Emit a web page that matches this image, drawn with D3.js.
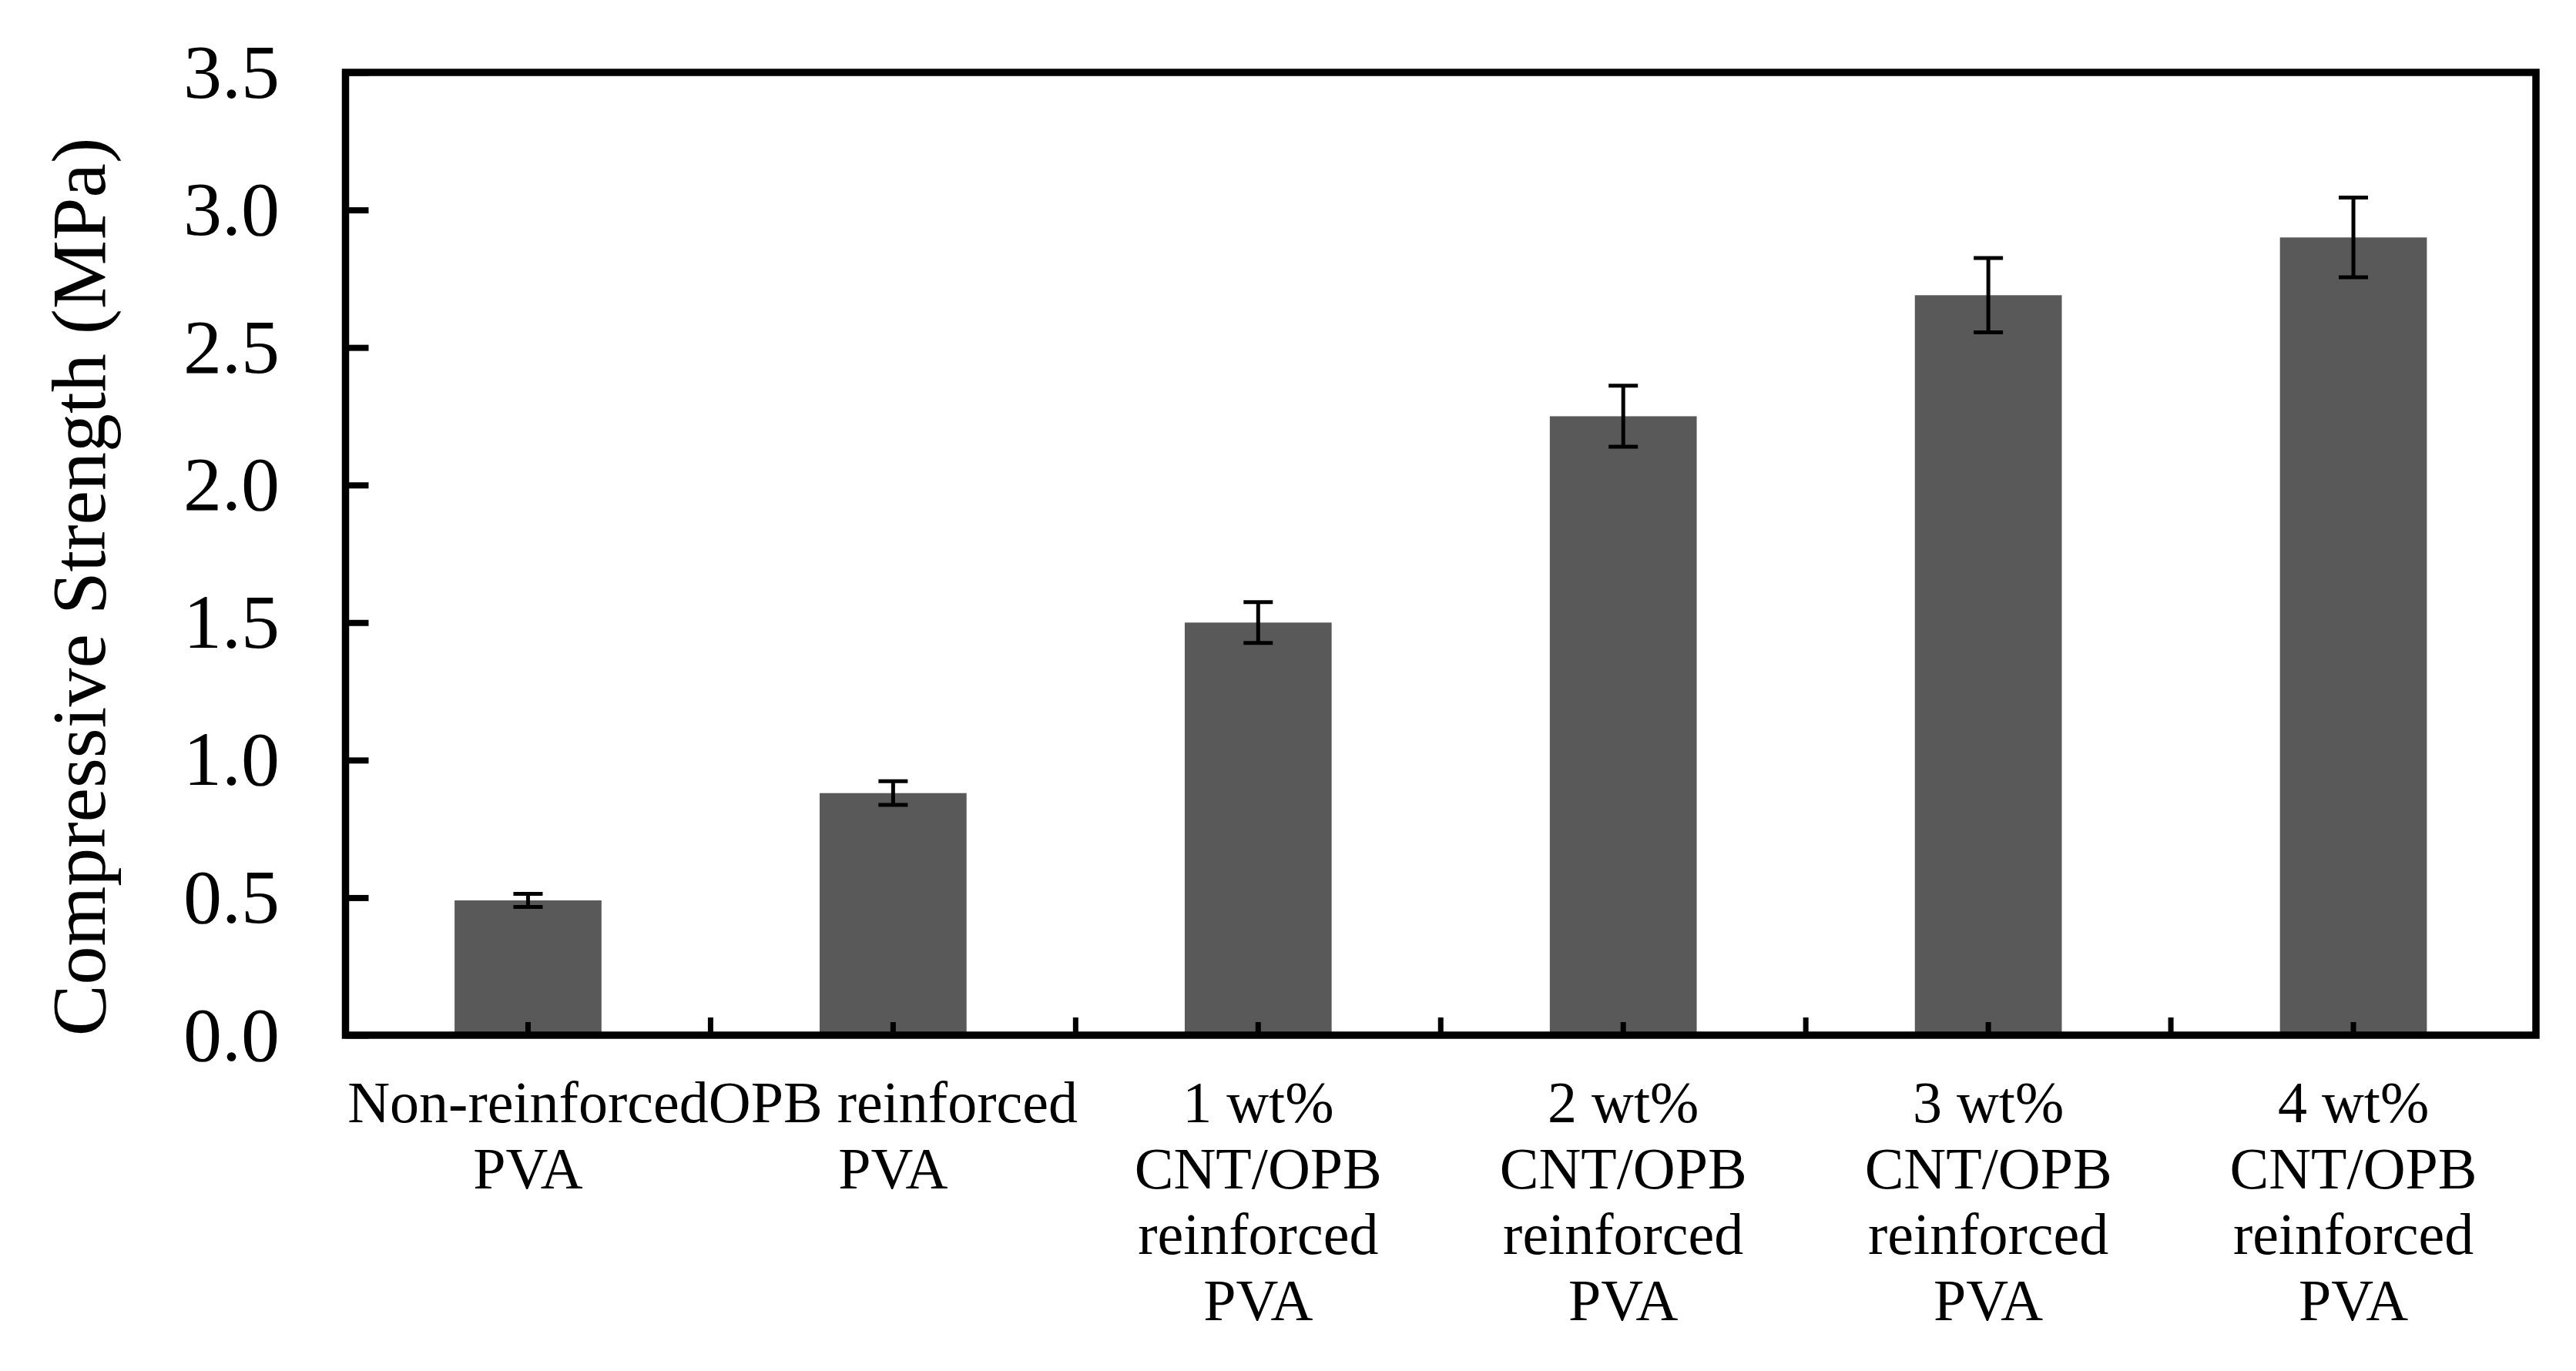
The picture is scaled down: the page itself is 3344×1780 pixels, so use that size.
<!DOCTYPE html>
<html>
<head>
<meta charset="utf-8">
<script src="https://cdn.jsdelivr.net/npm/d3@7"></script>
<style>
  body { margin: 0; background: #fff; }
  svg { display: block; }
  text { font-family: "Liberation Serif", "Times New Roman", serif; fill: #000; }
</style>
</head>
<body>
<svg id="canvas"></svg>
<script>
let categories = [
  ["Non-reinforced", "PVA"],
  ["OPB reinforced", "PVA"],
  ["1 wt%", "CNT/OPB", "reinforced", "PVA"],
  ["2 wt%", "CNT/OPB", "reinforced", "PVA"],
  ["3 wt%", "CNT/OPB", "reinforced", "PVA"],
  ["4 wt%", "CNT/OPB", "reinforced", "PVA"]
];
let strength = [0.49, 0.88, 1.50, 2.25, 2.69, 2.90];
let errors = [0.024, 0.043, 0.074, 0.111, 0.135, 0.145];
let yTicks = [0.0, 0.5, 1.0, 1.5, 2.0, 2.5, 3.0, 3.5];
let yTitle = "Compressive Strength (MPa)";

let width = 3344;
let height = 1780;
let plotLeft = 448.5, plotRight = 3292, plotTop = 94, plotBottom = 1344;

let canvas = d3.select('#canvas')
  .attr('width', width)
  .attr('height', height);

let keys = categories.map((c, i) => i);

let xScale = d3.scaleBand()
  .domain(keys)
  .range([plotLeft, plotRight])
  .paddingInner(0.5976)
  .paddingOuter(0.2988);

let yScale = d3.scaleLinear()
  .domain([0, 3.5])
  .range([plotBottom, plotTop]);

// bars
canvas.append('g')
  .selectAll('rect')
  .data(strength)
  .enter()
  .append('rect')
  .attr('x', (d, i) => xScale(i))
  .attr('width', xScale.bandwidth())
  .attr('y', d => yScale(d))
  .attr('height', d => yScale(0) - yScale(d))
  .attr('fill', '#595959');

// y axis ticks + labels
let yAxis = d3.axisLeft(yScale)
  .tickValues(yTicks)
  .tickSize(-30)
  .tickPadding(85.5)
  .tickFormat(d3.format('.1f'));

let yg = canvas.append('g')
  .attr('transform', `translate(${plotLeft},0)`)
  .call(yAxis);
yg.select('.domain').remove();
yg.selectAll('.tick line').attr('stroke', '#000').attr('stroke-width', 8);
yg.selectAll('.tick text')
  .attr('font-size', 100)
  .attr('font-family', '"Liberation Serif", "Times New Roman", serif')
  .attr('fill', '#000');

// x axis: short ticks at bar centres
let xAxis = d3.axisBottom(xScale)
  .tickSize(-17)
  .tickFormat('');
let xg = canvas.append('g')
  .attr('transform', `translate(0,${plotBottom})`)
  .call(xAxis);
xg.select('.domain').remove();
xg.selectAll('.tick line').attr('stroke', '#000').attr('stroke-width', 7);

// longer ticks at category boundaries
let step = xScale.step();
canvas.append('g')
  .selectAll('line')
  .data(d3.range(1, categories.length))
  .enter()
  .append('line')
  .attr('x1', i => plotLeft + i * step)
  .attr('x2', i => plotLeft + i * step)
  .attr('y1', plotBottom)
  .attr('y2', plotBottom - 23)
  .attr('stroke', '#000')
  .attr('stroke-width', 7);

// category labels
let labels = canvas.append('g')
  .selectAll('text')
  .data(categories)
  .enter()
  .append('text')
  .attr('text-anchor', 'middle')
  .attr('font-size', 76)
  .attr('x', (d, i) => xScale(i) + xScale.bandwidth() / 2)
  .attr('y', 1457);
labels.selectAll('tspan')
  .data((d, i) => d.map(line => ({ line: line, i: i })))
  .enter()
  .append('tspan')
  .attr('x', d => xScale(d.i) + xScale.bandwidth() / 2)
  .attr('dy', (d, j) => j === 0 ? 0 : 85.6)
  .text(d => d.line);

// error bars
let capHalf = 19;
let eg = canvas.append('g')
  .selectAll('g')
  .data(strength)
  .enter()
  .append('g')
  .attr('stroke', '#000')
  .attr('stroke-width', 5);
eg.append('line')
  .attr('x1', (d, i) => xScale(i) + xScale.bandwidth() / 2)
  .attr('x2', (d, i) => xScale(i) + xScale.bandwidth() / 2)
  .attr('y1', (d, i) => yScale(d + errors[i]))
  .attr('y2', (d, i) => yScale(d - errors[i]));
eg.append('line')
  .attr('x1', (d, i) => xScale(i) + xScale.bandwidth() / 2 - capHalf)
  .attr('x2', (d, i) => xScale(i) + xScale.bandwidth() / 2 + capHalf)
  .attr('y1', (d, i) => yScale(d + errors[i]))
  .attr('y2', (d, i) => yScale(d + errors[i]));
eg.append('line')
  .attr('x1', (d, i) => xScale(i) + xScale.bandwidth() / 2 - capHalf)
  .attr('x2', (d, i) => xScale(i) + xScale.bandwidth() / 2 + capHalf)
  .attr('y1', (d, i) => yScale(d - errors[i]))
  .attr('y2', (d, i) => yScale(d - errors[i]));

// frame
canvas.append('rect')
  .attr('x', plotLeft)
  .attr('y', plotTop)
  .attr('width', plotRight - plotLeft)
  .attr('height', plotBottom - plotTop)
  .attr('fill', 'none')
  .attr('stroke', '#000')
  .attr('stroke-width', 9.5);

// y title
canvas.append('text')
  .attr('transform', 'translate(136,762) rotate(-90)')
  .attr('text-anchor', 'middle')
  .attr('font-size', 100)
  .text(yTitle);
</script>
</body>
</html>
